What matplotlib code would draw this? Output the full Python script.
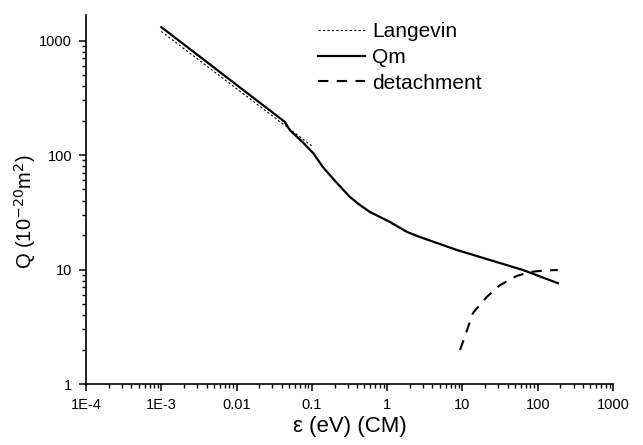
import matplotlib
matplotlib.use("Agg")
import matplotlib.pyplot as plt
from matplotlib.ticker import FixedLocator, LogLocator, NullFormatter

plt.rcParams['font.family'] = ['Liberation Sans', 'DejaVu Sans']

# Data
langevin_e = [1e-3, 0.1]
langevin_q = [1200, 120]

qm_e = [1e-3, 0.044, 0.051, 0.075, 0.104, 0.14, 0.215, 0.32, 0.435, 0.59, 1.09, 1.83, 2.73, 8.45, 63.6, 185]
qm_q = [1310, 194, 165, 130, 104, 78.5, 57, 43, 36.6, 31.8, 26, 21.3, 19.2, 14.8, 9.9, 7.6]

det_e = [9.3, 13.8, 21, 31.5, 53, 79, 120, 185]
det_q = [1.98, 4.17, 5.75, 7.3, 8.8, 9.5, 9.8, 9.9]

xticks = [1e-4, 1e-3, 1e-2, 1e-1, 1, 10, 100, 1000]
xticklabels = ["1E-4", "1E-3", "0.01", "0.1", "1", "10", "100", "1000"]
yticks = [1, 10, 100, 1000]
yticklabels = ["1", "10", "100", "1000"]

fig = plt.figure(figsize=(6.43, 4.45), dpi=100)
ax = fig.add_axes([86/643, (445-384)/445, (613-86)/643, (384-15)/445])

ax.plot(langevin_e, langevin_q, color='black', lw=0.8, linestyle=(0, (2, 2)), label='Langevin')
ax.plot(qm_e, qm_q, color='black', lw=1.6, linestyle='-', label='Qm')
ax.plot(det_e, det_q, color='black', lw=1.5, linestyle=(0, (5, 4)), label='detachment')

ax.set_xscale('log')
ax.set_yscale('log')
ax.set_xlim(1e-4, 1000)
ax.set_ylim(1, 1670)

ax.xaxis.set_major_locator(FixedLocator(xticks))
ax.set_xticklabels(xticklabels)
ax.yaxis.set_major_locator(FixedLocator(yticks))
ax.set_yticklabels(yticklabels)
ax.xaxis.set_minor_locator(LogLocator(base=10, subs=range(2, 10), numticks=20))
ax.yaxis.set_minor_locator(LogLocator(base=10, subs=range(2, 10), numticks=20))
ax.xaxis.set_minor_formatter(NullFormatter())
ax.yaxis.set_minor_formatter(NullFormatter())

ax.spines['top'].set_visible(False)
ax.spines['right'].set_visible(False)
for s in ['left', 'bottom']:
    ax.spines[s].set_linewidth(1.2)

ax.tick_params(which='major', direction='out', length=5, width=1.1, labelsize=10.5, pad=5)
ax.tick_params(which='minor', direction='out', length=3, width=1.0)

ax.set_xlabel('ε (eV) (CM)', fontsize=16, labelpad=3)
ax.set_ylabel('Q (10$^{-20}$m$^{2}$)', fontsize=14.5)
ax.yaxis.set_label_coords(-0.092, 0.466)

leg = ax.legend(loc='upper left', bbox_to_anchor=(0.44, 0.981), frameon=False,
                fontsize=15, handlelength=2.26, handletextpad=0.33, labelspacing=0.33,
                borderpad=0, borderaxespad=0)

fig.savefig('out.png', dpi=100)
